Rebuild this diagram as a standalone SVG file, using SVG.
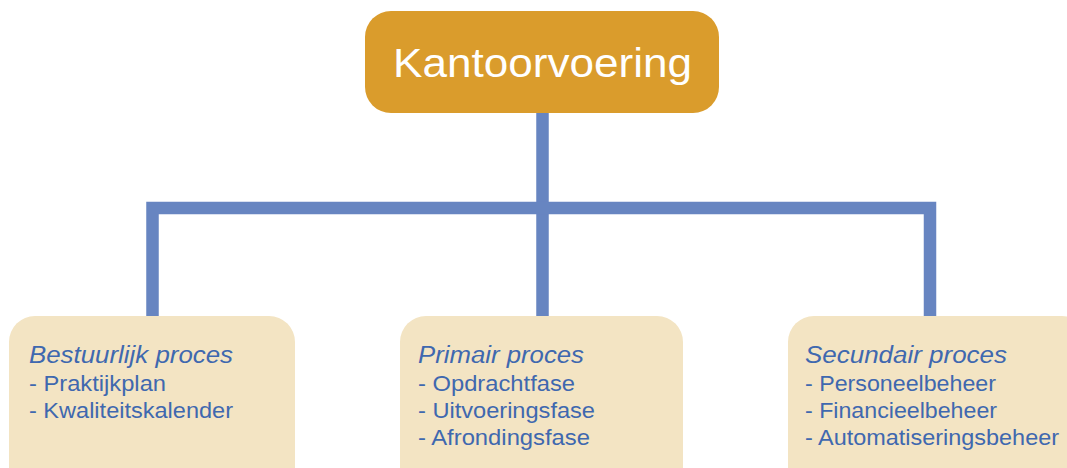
<svg xmlns="http://www.w3.org/2000/svg" width="1067" height="468" viewBox="0 0 1067 468">
<style>
.conn{fill:none;stroke:#6785c1;stroke-width:12.5;stroke-linecap:butt;stroke-linejoin:miter}
.top{fill:#da9c2c}
.box{fill:#f3e4c3}
.tt{font-family:"Liberation Sans",Arial,sans-serif;font-size:41px;fill:#ffffff}
.h{font-family:"Liberation Sans",Arial,sans-serif;font-size:23px;font-style:italic;fill:#3f68af}
.l{font-family:"Liberation Sans",Arial,sans-serif;font-size:22.5px;fill:#3f68af}
</style>
<rect width="1067" height="468" fill="#ffffff"/>
<g id="connectors">
<path class="conn" d="M542.5 113 V318"/>
<path class="conn" d="M152.5 318 V208 H930 V318"/>
</g>
<g id="kantoorvoering">
<rect class="top" x="365" y="11" width="354" height="102" rx="26"/>
<text class="tt" x="393" y="77" textLength="299" lengthAdjust="spacingAndGlyphs">Kantoorvoering</text>
</g>
<g id="bestuurlijk">
<rect class="box" x="9" y="316" width="286" height="180" rx="26"/>
<text class="h" x="29" y="363" textLength="204" lengthAdjust="spacingAndGlyphs">Bestuurlijk proces</text>
<text class="l" x="29" y="391" textLength="137" lengthAdjust="spacingAndGlyphs">- Praktijkplan</text>
<text class="l" x="29" y="418" textLength="204" lengthAdjust="spacingAndGlyphs">- Kwaliteitskalender</text>
</g>
<g id="primair">
<rect class="box" x="400" y="316" width="283" height="180" rx="26"/>
<text class="h" x="418" y="363" textLength="166" lengthAdjust="spacingAndGlyphs">Primair proces</text>
<text class="l" x="418" y="391" textLength="157" lengthAdjust="spacingAndGlyphs">- Opdrachtfase</text>
<text class="l" x="418" y="418" textLength="177" lengthAdjust="spacingAndGlyphs">- Uitvoeringsfase</text>
<text class="l" x="418" y="445" textLength="172" lengthAdjust="spacingAndGlyphs">- Afrondingsfase</text>
</g>
<g id="secundair">
<rect class="box" x="788" y="316" width="300" height="180" rx="26"/>
<text class="h" x="805" y="363" textLength="202" lengthAdjust="spacingAndGlyphs">Secundair proces</text>
<text class="l" x="805" y="391" textLength="191" lengthAdjust="spacingAndGlyphs">- Personeelbeheer</text>
<text class="l" x="805" y="418" textLength="192" lengthAdjust="spacingAndGlyphs">- Financieelbeheer</text>
<text class="l" x="805" y="445" textLength="254" lengthAdjust="spacingAndGlyphs">- Automatiseringsbeheer</text>
</g>
</svg>
